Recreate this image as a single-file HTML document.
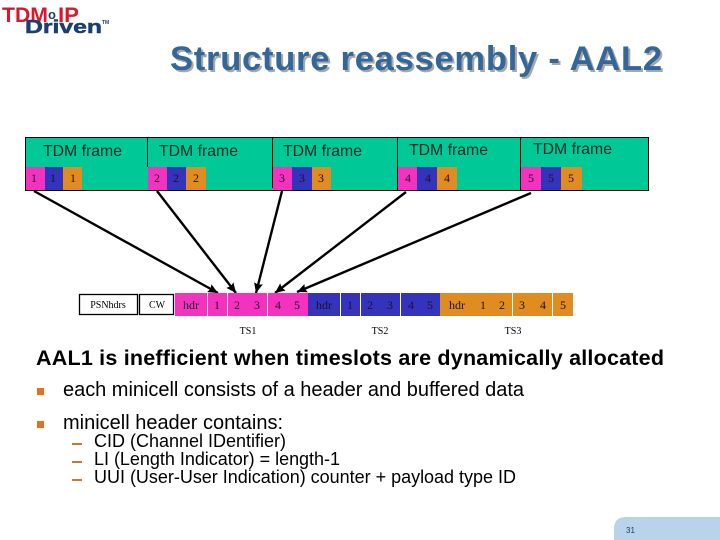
<!DOCTYPE html>
<html>
<head>
<meta charset="utf-8">
<style>
html,body{margin:0;padding:0;background:#fff;width:720px;height:540px;overflow:hidden}
svg{display:block}
.s{font-family:"Liberation Sans",sans-serif}
.f{font-family:"Liberation Serif",serif;font-size:12px;fill:#20102a;text-anchor:middle}
.fr{font-family:"Liberation Sans",sans-serif;font-size:15.8px;fill:#102a20}
.b{font-family:"Liberation Sans",sans-serif;font-size:20px;fill:#000}
.c{font-family:"Liberation Sans",sans-serif;font-size:18px;fill:#000}
</style>
</head>
<body>
<svg width="720" height="540" viewBox="0 0 720 540" xmlns="http://www.w3.org/2000/svg">
<defs>
<marker id="a" markerUnits="userSpaceOnUse" markerWidth="12" markerHeight="10" refX="10" refY="5" orient="auto">
<path d="M0 0.5L10 5L0 9.5L1.5 5Z" fill="#000"/>
</marker>
</defs>
<rect width="720" height="540" fill="#fff"/>

<!-- logo -->
<text x="2" y="22" class="s" font-size="21.5" font-weight="bold" fill="#d8182c" textLength="46" lengthAdjust="spacingAndGlyphs">TDM</text>
<text x="58" y="22" class="s" font-size="21.5" font-weight="bold" fill="#d8182c" textLength="21" lengthAdjust="spacingAndGlyphs">IP</text>
<text x="48" y="19" class="s" font-size="13" font-weight="bold" fill="#1b3f6e">o</text>
<text x="25" y="33" class="s" font-size="18.5" font-weight="bold" fill="#1b3f6e" stroke="#1b3f6e" stroke-width="0.5" textLength="77" lengthAdjust="spacingAndGlyphs">Driven</text>
<text x="102" y="24" class="s" font-size="5" font-weight="bold" fill="#1b3f6e">TM</text>

<!-- title -->
<text x="172" y="72" class="s" font-size="34.5" font-weight="bold" fill="#a8a8a8" textLength="492" lengthAdjust="spacing">Structure reassembly - AAL2</text>
<text x="170" y="70" class="s" font-size="34.5" font-weight="bold" fill="#336699" textLength="492" lengthAdjust="spacing">Structure reassembly - AAL2</text>

<!-- frames -->
<rect x="25.5" y="137.5" width="623" height="53" fill="#00c896" stroke="#000"/>
<g fill="#f432c0">
<rect x="26" y="167" width="19" height="23"/><rect x="148" y="167" width="19" height="23"/><rect x="273" y="167" width="19" height="23"/><rect x="398" y="167" width="19" height="23"/><rect x="521" y="167" width="20" height="23"/>
</g>
<g fill="#3333bb">
<rect x="45" y="167" width="18" height="23"/><rect x="167" y="167" width="19" height="23"/><rect x="292" y="167" width="20" height="23"/><rect x="417" y="167" width="20" height="23"/><rect x="541" y="167" width="20" height="23"/>
</g>
<g fill="#e08c20">
<rect x="63" y="167" width="19" height="23"/><rect x="186" y="167" width="20" height="23"/><rect x="312" y="167" width="19" height="23"/><rect x="437" y="167" width="20" height="23"/><rect x="561" y="167" width="21" height="23"/>
</g>
<g stroke="#000" stroke-width="1">
<line x1="147.5" y1="137" x2="147.5" y2="167"/>
<line x1="272.5" y1="137" x2="272.5" y2="188"/>
<line x1="397.5" y1="137" x2="397.5" y2="190"/>
<line x1="520.5" y1="137" x2="520.5" y2="190"/>
<line x1="25" y1="190.5" x2="649" y2="190.5"/>
</g>
<text x="43" y="156" class="fr">TDM frame</text>
<text x="159" y="156" class="fr">TDM frame</text>
<text x="283" y="156" class="fr">TDM frame</text>
<text x="409" y="155" class="fr">TDM frame</text>
<text x="533" y="154" class="fr">TDM frame</text>

<text x="34" y="182" class="f">1</text><text x="53" y="182" class="f">1</text><text x="73" y="182" class="f">1</text>
<text x="157" y="182" class="f">2</text><text x="176" y="182" class="f">2</text><text x="196" y="182" class="f">2</text>
<text x="282" y="182" class="f">3</text><text x="302" y="182" class="f">3</text><text x="321" y="182" class="f">3</text>
<text x="408" y="182" class="f">4</text><text x="428" y="182" class="f">4</text><text x="447" y="182" class="f">4</text>
<text x="531" y="182" class="f">5</text><text x="551" y="182" class="f">5</text><text x="571" y="182" class="f">5</text>

<!-- arrows -->
<g stroke="#000" stroke-width="2.4" fill="none">
<line x1="34" y1="191" x2="218" y2="293" marker-end="url(#a)"/>
<line x1="157" y1="191" x2="236" y2="293" marker-end="url(#a)"/>
<line x1="282" y1="191" x2="256" y2="293" marker-end="url(#a)"/>
<line x1="406" y1="192" x2="275" y2="293" marker-end="url(#a)"/>
<line x1="531" y1="193" x2="297" y2="292" marker-end="url(#a)"/>
</g>

<!-- bottom row -->
<rect x="79.5" y="294.5" width="58" height="20" fill="#fff" stroke="#000" stroke-width="1.3"/>
<rect x="139.5" y="294.5" width="34" height="20" fill="#fff" stroke="#000" stroke-width="1.3"/>
<g fill="#f432c0">
<rect x="175" y="293" width="32" height="23"/><rect x="208" y="293" width="19" height="23"/><rect x="228" y="293" width="39" height="23"/><rect x="268" y="293" width="40" height="23"/>
</g>
<g fill="#3333bb">
<rect x="308" y="293" width="32" height="23"/><rect x="341" y="293" width="19" height="23"/><rect x="361" y="293" width="39" height="23"/><rect x="401" y="293" width="39" height="23"/>
</g>
<g fill="#e08c20">
<rect x="440" y="293" width="72" height="23"/><rect x="513" y="293" width="39" height="23"/><rect x="553" y="293" width="20" height="23"/>
</g>
<text x="108" y="308" class="f" style="font-size:10px;fill:#000">PSNhdrs</text>
<text x="157" y="308" class="f" style="font-size:10px;fill:#000">CW</text>
<text x="191" y="309" class="f">hdr</text><text x="217" y="309" class="f">1</text><text x="237" y="309" class="f">2</text><text x="257" y="309" class="f">3</text><text x="278" y="309" class="f">4</text><text x="297" y="309" class="f">5</text>
<text x="324" y="309" class="f">hdr</text><text x="350" y="309" class="f">1</text><text x="370" y="309" class="f">2</text><text x="390" y="309" class="f">3</text><text x="411" y="309" class="f">4</text><text x="430" y="309" class="f">5</text>
<text x="457" y="309" class="f">hdr</text><text x="483" y="309" class="f">1</text><text x="502" y="309" class="f">2</text><text x="522" y="309" class="f">3</text><text x="543" y="309" class="f">4</text><text x="563" y="309" class="f">5</text>
<text x="248" y="334" class="f" style="font-size:10px;fill:#000">TS1</text>
<text x="380" y="334" class="f" style="font-size:10px;fill:#000">TS2</text>
<text x="513" y="334" class="f" style="font-size:10px;fill:#000">TS3</text>

<!-- body text -->
<text x="36" y="365" class="b" style="font-size:21.5px" font-weight="bold" textLength="628" lengthAdjust="spacing">AAL1 is inefficient when timeslots are dynamically allocated</text>
<rect x="37" y="388" width="7" height="7" fill="#e8701c"/>
<text x="63" y="396" class="b" textLength="461" lengthAdjust="spacing">each minicell consists of a header and buffered data</text>
<rect x="37" y="421" width="7" height="7" fill="#e8701c"/>
<text x="63" y="429" class="b" textLength="220" lengthAdjust="spacing">minicell header contains:</text>
<g fill="#c87a30">
<rect x="72" y="443" width="10" height="2"/><rect x="72" y="461" width="10" height="2"/><rect x="72" y="479" width="10" height="2"/>
</g>
<text x="94" y="447" class="c" textLength="192" lengthAdjust="spacing">CID (Channel IDentifier)</text>
<text x="94" y="465" class="c" textLength="246" lengthAdjust="spacing">LI (Length Indicator) = length-1</text>
<text x="94" y="483" class="c" textLength="422" lengthAdjust="spacing">UUI (User-User Indication) counter + payload type ID</text>

<!-- footer -->
<path d="M614 540V529Q614 517 626 517H720V540Z" fill="#b8d3ea"/>
<text x="626" y="533" class="s" font-size="8" fill="#1b3f6e">31</text>
</svg>
</body>
</html>
